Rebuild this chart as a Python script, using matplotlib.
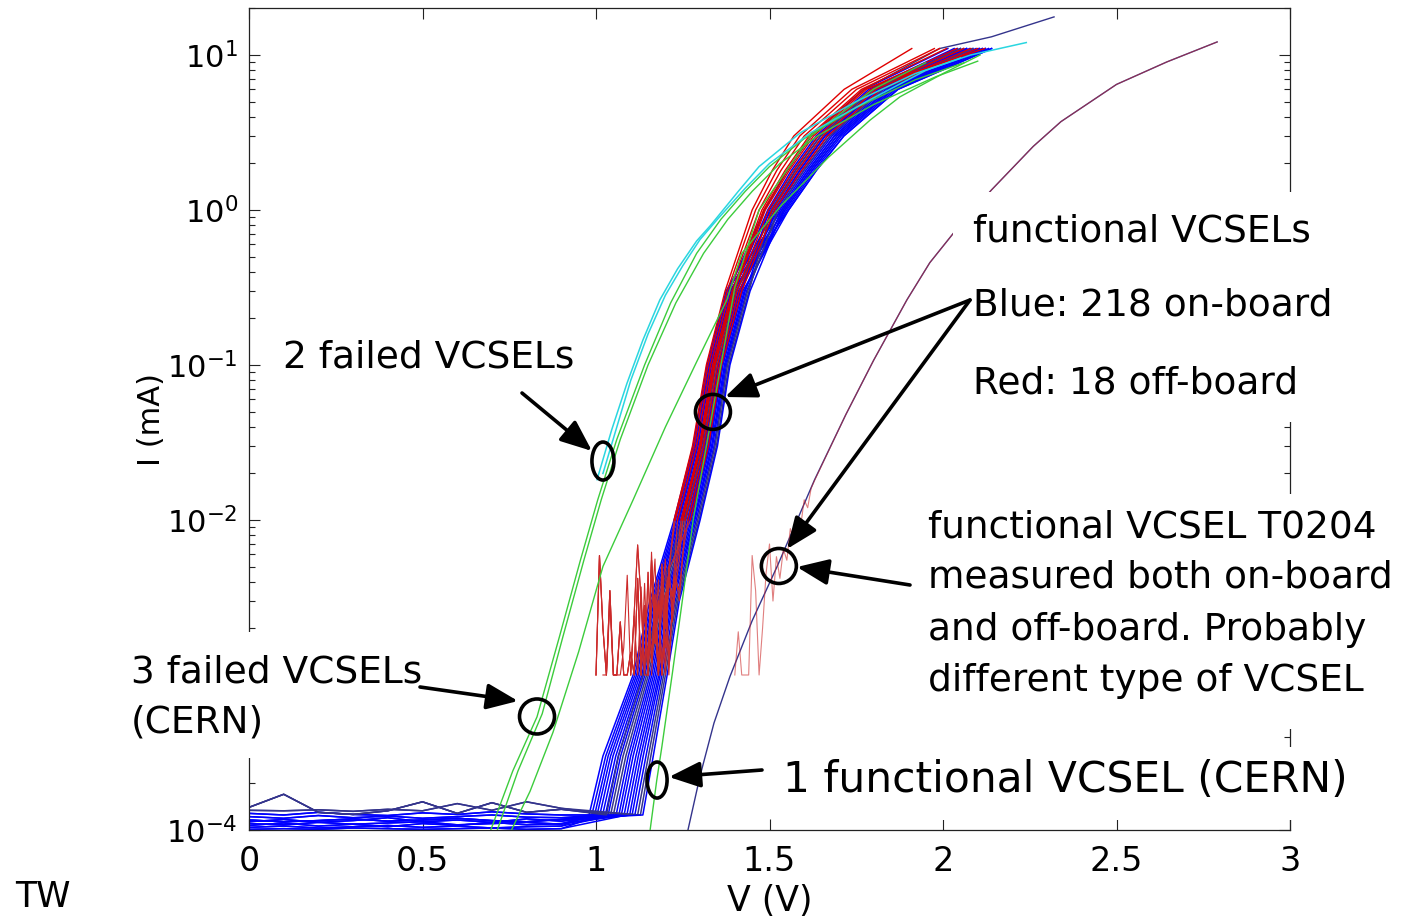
import numpy as np
import matplotlib.pyplot as plt
from matplotlib.patches import Rectangle, Ellipse, FancyArrowPatch
from matplotlib.transforms import IdentityTransform
from matplotlib.ticker import NullFormatter

## I-V curves of VCSELs, log current axis ####################################

W, H = 1401, 921

# current levels (mA) at which the on-board bundle voltages were read
LEVELS_MA = [1.25e-4, 3e-4, 1e-3, 3e-3, 1e-2, 3e-2, 0.1, 0.3, 1.0, 1.8, 3.0, 6.0, 11.0]

# voltage (V) of each blue on-board curve at LEVELS_MA
BLUE_V = [
	[0.980, 1.020, 1.107, 1.155, 1.225, 1.280, 1.320, 1.375, 1.505, 1.575, 1.647, 1.800, 2.050],
	[0.988, 1.028, 1.112, 1.160, 1.229, 1.284, 1.324, 1.378, 1.535, 1.611, 1.687, 1.842, 2.104],
	[0.996, 1.035, 1.117, 1.164, 1.233, 1.287, 1.327, 1.382, 1.485, 1.551, 1.620, 1.772, 2.014],
	[1.003, 1.042, 1.122, 1.168, 1.237, 1.291, 1.330, 1.385, 1.545, 1.623, 1.701, 1.856, 2.122],
	[1.011, 1.049, 1.127, 1.172, 1.240, 1.294, 1.333, 1.389, 1.515, 1.587, 1.660, 1.814, 2.068],
	[1.019, 1.057, 1.132, 1.177, 1.244, 1.298, 1.337, 1.392, 1.555, 1.635, 1.714, 1.870, 2.140],
	[1.027, 1.064, 1.136, 1.181, 1.248, 1.301, 1.340, 1.396, 1.495, 1.563, 1.634, 1.786, 2.032],
	[1.035, 1.071, 1.141, 1.185, 1.252, 1.305, 1.343, 1.399, 1.525, 1.599, 1.674, 1.828, 2.086],
	[1.042, 1.078, 1.146, 1.189, 1.255, 1.308, 1.346, 1.403, 1.540, 1.617, 1.694, 1.849, 2.113],
	[1.050, 1.086, 1.151, 1.194, 1.259, 1.312, 1.350, 1.406, 1.510, 1.581, 1.654, 1.807, 2.059],
	[1.058, 1.093, 1.156, 1.198, 1.263, 1.315, 1.353, 1.410, 1.550, 1.629, 1.707, 1.863, 2.131],
	[1.066, 1.100, 1.161, 1.202, 1.267, 1.319, 1.357, 1.413, 1.520, 1.593, 1.667, 1.821, 2.077],
	[1.073, 1.107, 1.166, 1.206, 1.270, 1.322, 1.360, 1.416, 1.530, 1.605, 1.680, 1.835, 2.095],
	[1.081, 1.115, 1.171, 1.211, 1.274, 1.326, 1.363, 1.420, 1.500, 1.569, 1.640, 1.793, 2.041],
	[1.089, 1.122, 1.176, 1.215, 1.278, 1.329, 1.366, 1.423, 1.555, 1.635, 1.714, 1.870, 2.140],
	[1.097, 1.129, 1.181, 1.219, 1.282, 1.333, 1.370, 1.427, 1.545, 1.623, 1.701, 1.856, 2.122],
	[1.104, 1.136, 1.185, 1.223, 1.285, 1.336, 1.373, 1.430, 1.515, 1.587, 1.660, 1.814, 2.068],
	[1.112, 1.144, 1.190, 1.228, 1.289, 1.340, 1.376, 1.434, 1.535, 1.611, 1.687, 1.842, 2.104],
	[1.120, 1.151, 1.195, 1.232, 1.293, 1.343, 1.379, 1.437, 1.525, 1.599, 1.674, 1.828, 2.086],
	[1.128, 1.158, 1.200, 1.236, 1.297, 1.347, 1.383, 1.441, 1.505, 1.575, 1.647, 1.800, 2.050],
	[1.135, 1.165, 1.205, 1.240, 1.300, 1.350, 1.386, 1.444, 1.540, 1.617, 1.694, 1.849, 2.113],
]
BLUE_FLOOR = [0, 1, 2, 3, 4, 5, 6, 7, 8, 9, 0, 1, 2, 3, 4, 5, 6, 7, 8, 9, 2]
NAVY_ROWS = [8, 9, 18, 19]

# leakage floor before turn-on (units of 1e-4 mA)
FLOOR_V = [0.0, 0.1, 0.2, 0.3, 0.4, 0.5, 0.6, 0.7, 0.8, 0.9]
FLOOR_I = [
	[1.04, 1.06, 1.03, 1.05, 1.07, 1.04, 1.06, 1.03, 1.05, 1.06],
	[1.10, 1.08, 1.12, 1.09, 1.11, 1.13, 1.08, 1.10, 1.12, 1.09],
	[1.16, 1.13, 1.15, 1.18, 1.14, 1.16, 1.19, 1.15, 1.13, 1.17],
	[1.22, 1.19, 1.24, 1.20, 1.23, 1.19, 1.22, 1.25, 1.21, 1.20],
	[1.01, 1.02, 1.01, 1.03, 1.02, 1.01, 1.02, 1.03, 1.01, 1.02],
	[1.07, 1.11, 1.06, 1.09, 1.05, 1.10, 1.07, 1.12, 1.08, 1.10],
	[1.13, 1.17, 1.12, 1.15, 1.20, 1.13, 1.16, 1.12, 1.18, 1.14],
	[1.28, 1.25, 1.30, 1.26, 1.24, 1.29, 1.26, 1.31, 1.27, 1.25],
	[1.40, 1.70, 1.30, 1.26, 1.33, 1.52, 1.28, 1.50, 1.30, 1.36],
	[1.34, 1.33, 1.35, 1.32, 1.36, 1.33, 1.48, 1.34, 1.52, 1.38],
]

# one on-board curve running past the bundle
NAVY_LONG_V = [1.030, 1.065, 1.136, 1.181, 1.248, 1.301, 1.340, 1.396, 1.485, 1.551, 1.620, 1.772, 1.990, 2.140, 2.320]
NAVY_LONG_I = [1.25e-4, 3e-4, 1e-3, 3e-3, 1e-2, 3e-2, 0.1, 0.3, 1.0, 1.8, 3.0, 6.0, 11.0, 13.1, 17.6]

# red off-board curves: voltage at LEVELS_MA[4:]
RED_V = [
	[1.228, 1.283, 1.323, 1.378, 1.460, 1.521, 1.587, 1.737, 1.975],
	[1.235, 1.290, 1.330, 1.385, 1.470, 1.533, 1.600, 1.751, 1.990],
	[1.250, 1.298, 1.336, 1.392, 1.478, 1.545, 1.614, 1.765, 2.010],
	[1.250, 1.303, 1.343, 1.399, 1.488, 1.557, 1.627, 1.779, 2.040],
	[1.257, 1.310, 1.350, 1.406, 1.497, 1.569, 1.640, 1.793, 2.060],
	[1.265, 1.317, 1.356, 1.413, 1.507, 1.581, 1.654, 1.807, 2.080],
	[1.272, 1.324, 1.362, 1.420, 1.515, 1.593, 1.667, 1.821, 2.100],
	[1.245, 1.300, 1.340, 1.396, 1.483, 1.551, 1.620, 1.772, 2.120],
	[1.225, 1.278, 1.318, 1.372, 1.450, 1.508, 1.570, 1.715, 1.910],
]
RED_NOISE_OF = [0, 1, 2, 3, 4, 5, 0, 1, 0]
# noisy low-current part of the off-board curves: (first V, values in 1e-3 mA, 10 mV steps)
RED_NOISE = [
	(1.00, [1.0, 5.9, 2.0, 1.0, 3.5, 1.0, 1.0, 2.2, 1.0, 1.0, 1.4, 1.0, 4.2, 1.0, 2.8, 1.0, 5.5, 1.6, 3.0, 1.0, 2.5, 4.8]),
	(1.10, [1.0, 2.5, 6.9, 3.0, 1.0, 4.6, 1.2, 3.3, 1.0, 5.2, 2.0, 4.0, 3.2]),
	(1.13, [1.0, 3.9, 1.0, 2.7, 5.6, 1.0, 3.6, 1.5, 4.9, 2.2, 3.8, 5.5]),
	(1.02, [1.0, 1.0, 2.9, 1.0, 1.0, 1.0, 1.5, 4.4, 1.0, 2.4, 1.0, 3.7, 1.0, 1.0, 6.2, 1.8, 4.1, 1.0, 3.4, 1.0, 2.9, 4.5]),
	(1.15, [1.0, 4.7, 2.0, 1.0, 3.9, 1.0, 5.0, 2.6, 4.4, 3.0, 5.8]),
	(1.16, [1.0, 2.3, 1.0, 3.2, 5.6, 1.2, 2.8, 4.0, 3.5, 6.0]),
]

# VCSEL T0204, on-board (navy) and off-board (red)
T0204_V = [1.265, 1.300, 1.340, 1.386, 1.450, 1.524, 1.630, 1.720, 1.800, 1.896, 1.962, 2.030, 2.140, 2.260, 2.340, 2.500, 2.645, 2.790]
T0204_LOG = [-4.0, -3.65, -3.31, -3.01, -2.65, -2.29, -1.74, -1.32, -0.97, -0.58, -0.34, -0.15, 0.13, 0.41, 0.57, 0.81, 0.955, 1.084]
T0204_OFF_V0 = 1.40
T0204_OFF_NOISE = [1.0, 1.9, 1.0, 1.0, 1.0, 5.9, 3.5, 1.0, 2.0, 4.5, 7.0, 3.0, 5.8, 4.2, 6.5, 5.5, 8.8, 7.2, 10.5, 9.2, 13.5, 12.0, 16.0, 18.0]

# 2 failed VCSELs (cyan)
CYAN = [
	([1.003, 1.045, 1.089, 1.135, 1.184, 1.235, 1.290, 1.330, 1.410, 1.470, 1.590, 1.750, 1.920, 2.080, 2.240],
	 [-1.74, -1.42, -1.12, -0.84, -0.58, -0.38, -0.20, -0.10, 0.12, 0.28, 0.50, 0.70, 0.88, 1.00, 1.08]),
	([1.020, 1.060, 1.100, 1.150, 1.200, 1.250, 1.300, 1.350, 1.430, 1.500, 1.620, 1.780, 1.950, 2.050],
	 [-1.70, -1.40, -1.10, -0.80, -0.55, -0.36, -0.19, -0.06, 0.14, 0.30, 0.50, 0.70, 0.90, 0.98]),
]

# CERN VCSELs (green): 3 failed + 1 functional
GREEN = [
	([0.680, 0.760, 0.830, 0.895, 0.955, 1.005, 1.060, 1.140, 1.215, 1.290, 1.360, 1.430, 1.500, 1.600, 1.750, 1.920, 2.060],
	 [-4.10, -3.62, -3.27, -2.75, -2.26, -1.87, -1.48, -1.00, -0.60, -0.28, -0.06, 0.12, 0.28, 0.46, 0.66, 0.84, 0.95]),
	([0.700, 0.775, 0.845, 0.905, 0.965, 1.015, 1.070, 1.150, 1.230, 1.310, 1.380, 1.450, 1.530, 1.640, 1.800, 1.980, 2.100],
	 [-4.10, -3.62, -3.25, -2.75, -2.26, -1.87, -1.48, -1.00, -0.60, -0.28, -0.06, 0.12, 0.30, 0.48, 0.68, 0.86, 0.96]),
	([0.735, 0.810, 0.876, 0.950, 1.020, 1.107, 1.200, 1.290, 1.377, 1.420, 1.530, 1.670, 1.790, 1.876, 2.000, 2.107],
	 [-4.10, -3.75, -3.37, -2.85, -2.30, -1.87, -1.40, -0.98, -0.58, -0.28, 0.02, 0.34, 0.58, 0.73, 0.88, 1.00]),
	([1.150, 1.175, 1.190, 1.220, 1.250, 1.280, 1.320, 1.360, 1.400, 1.470, 1.620, 1.800, 1.950],
	 [-4.10, -3.68, -3.46, -2.99, -2.50, -2.00, -1.50, -1.00, -0.50, 0.00, 0.48, 0.78, 0.95]),
]

XTICKS = [0, 0.5, 1, 1.5, 2, 2.5, 3]
XTICKLABELS = ['0', '0.5', '1', '1.5', '2', '2.5', '3']
YTICKS = [1e-4, 1e-3, 1e-2, 1e-1, 1, 10]
# the 10^-3 label is hidden behind a text box on the slide
YTICKLABELS = [r'$10^{-4}$', '', r'$10^{-2}$', r'$10^{-1}$', r'$10^{0}$', r'$10^{1}$']

BLUE = '#0000ff'
NAVY = '#34348c'
RED = '#e00000'
NOISE_RED = '#cc2a2a'
GREEN_C = '#3ccc3c'
CYAN_C = '#2ad6e0'

plt.rcParams['font.family'] = ['DejaVu Sans']
plt.rcParams['axes.unicode_minus'] = False

fig = plt.figure(figsize=(W / 100, H / 100), dpi=100)
ax = fig.add_axes([249 / W, (H - 830) / H, (1290 - 249) / W, (830 - 8.3) / H])
ax.set_yscale('log')
ax.set_xlim(0, 3)
ax.set_ylim(1e-4, 20)

# on-board blue bundle, floor first then turn-on
for n, row in enumerate(BLUE_V):
	fl = FLOOR_I[BLUE_FLOOR[n]]
	v = [fv for fv in FLOOR_V if fv < row[0] - 0.03]
	i = [fl[k] * 1e-4 for k in range(len(v))]
	col = NAVY if n in NAVY_ROWS else BLUE
	ax.plot(v + row, i + LEVELS_MA, color=col, lw=1.1, zorder=2)

ax.plot(FLOOR_V + NAVY_LONG_V, [f * 1e-4 for f in FLOOR_I[8]] + NAVY_LONG_I, color=NAVY, lw=1.0, zorder=2)

# T0204 on-board
ax.plot(T0204_V, 10 ** np.array(T0204_LOG), color=NAVY, lw=1.0, zorder=2.5)

# red off-board: noisy start, then the rise
for n, row in enumerate(RED_V):
	v0, vals = RED_NOISE[RED_NOISE_OF[n]]
	nv = [round(v0 + 0.01 * k, 2) for k in range(len(vals))]
	ni = [x * 1e-3 for x in vals]
	ax.plot(nv + [row[0]], ni + [LEVELS_MA[4]], color=NOISE_RED, lw=0.8, zorder=3)
	ax.plot(row, LEVELS_MA[4:], color=RED, lw=1.0, zorder=3)

nv = [round(T0204_OFF_V0 + 0.01 * k, 2) for k in range(len(T0204_OFF_NOISE))]
tv = [v for v in T0204_V if v > nv[-1]]
ti = [10 ** l for v, l in zip(T0204_V, T0204_LOG) if v > nv[-1]]
ax.plot(nv + tv, [x * 1e-3 for x in T0204_OFF_NOISE] + ti, color=NOISE_RED, lw=0.8, alpha=0.6, zorder=3)

for v, lg in GREEN:
	ax.plot(v, 10 ** np.array(lg), color=GREEN_C, lw=1.0, zorder=3.5)
for v, lg in CYAN:
	ax.plot(v, 10 ** np.array(lg), color=CYAN_C, lw=1.1, zorder=3.5)

ax.set_xticks(XTICKS)
ax.set_xticklabels(XTICKLABELS)
ax.set_yticks(YTICKS)
ax.set_yticklabels(YTICKLABELS)
ax.yaxis.set_minor_formatter(NullFormatter())
ax.tick_params(which='both', direction='in', top=True, right=True, width=0.8, color='#222222')
ax.tick_params(which='major', length=8)
ax.tick_params(which='minor', length=4)
ax.tick_params(axis='x', pad=11, labelsize=24)
ax.tick_params(axis='y', pad=8, labelsize=22)
for s in ax.spines.values():
	s.set_linewidth(0.9)
	s.set_color('#222222')

ax.set_xlabel('V (V)', fontsize=25)
ax.set_ylabel('I (mA)', fontsize=22)
ax.xaxis.set_label_coords(0.5, -0.066)
ax.yaxis.set_label_coords(-0.080, 0.5)


def fpx(x, y):
	return (x / W, 1 - y / H)


# white text boxes of the slide sit over the axes
BOXES = [(953, 192, 1352, 422), (915, 494, 1400, 729), (772, 747, 1362, 820), (125, 632, 428, 758), (275, 335, 578, 385)]
for x0, y0, x1, y1 in BOXES:
	fig.add_artist(Rectangle(fpx(x0, y1), (x1 - x0) / W, (y1 - y0) / H, transform=fig.transFigure,
		facecolor='white', edgecolor='none', zorder=3))

TEXTS = [
	(283, 358, '2 failed VCSELs', 27),
	(973, 231, 'functional VCSELs', 27),
	(973, 306, 'Blue: 218 on-board', 27),
	(973, 383, 'Red: 18 off-board', 27),
	(928, 527, 'functional VCSEL T0204', 27),
	(928, 578, 'measured both on-board', 27),
	(928, 630, 'and off-board. Probably', 27),
	(928, 681, 'different type of VCSEL', 27),
	(131, 672, '3 failed VCSELs', 27),
	(131, 722, '(CERN)', 27),
	(783, 780, '1 functional VCSEL (CERN)', 30.5),
	(15, 897, 'TW', 25),
]
for x, y, s, fs in TEXTS:
	fig.text(*fpx(x, y), s, ha='left', va='center', fontsize=fs, zorder=4)

# circled features (V, mA, width px, height px)
CIRCLES = [(1.020, 0.024, 22, 38), (1.337, 0.0498, 35, 35), (0.830, 5.4e-4, 35, 35),
	(1.527, 5.05e-3, 35, 35), (1.176, 2.1e-4, 20, 36)]
for v, i, w, h in CIRCLES:
	c = ax.transData.transform((v, i))
	fig.add_artist(Ellipse(c, w, h, transform=IdentityTransform(), fill=False, lw=2.6, ec='k', zorder=5))

ARROWS = [((522, 393), (592, 451)), ((970, 300), (725, 397)), ((970, 300), (787, 549)),
	((910, 585), (797, 567)), ((420, 687), (518, 701)), ((762, 770), (669, 777))]
for a, b in ARROWS:
	fig.add_artist(FancyArrowPatch(fpx(*a), fpx(*b), transform=fig.transFigure,
		arrowstyle='-|>,head_length=0.8,head_width=0.33', mutation_scale=24,
		lw=2.6, color='k', shrinkA=0, shrinkB=0, zorder=5))

fig.savefig('out.png', dpi=100)
